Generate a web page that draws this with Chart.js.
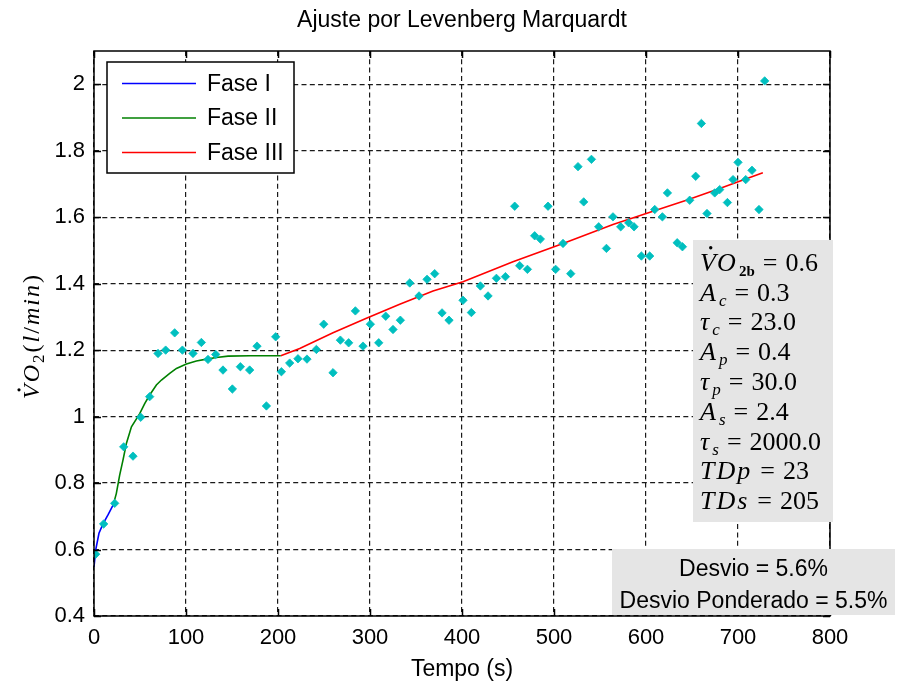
<!DOCTYPE html>
<html>
<head>
<meta charset="utf-8">
<script src="https://cdn.jsdelivr.net/npm/chart.js@4.4.1/dist/chart.umd.min.js"></script>
<style>
  html, body { margin: 0; padding: 0; background: #fff; }
  #c { display: block; }
</style>
</head>
<body>
<canvas id="c" width="897" height="687"></canvas>
<script>
// Measured oxygen uptake (time in s, VO2 in l/min)
const obsTime = [1.8,10.5,22.5,32.3,42.4,50.8,60.5,69.6,77.9,87.7,96.1,107.6,116.7,123.9,132.3,140.2,150.4,159.1,169.2,177.2,187.4,197.5,203.7,212.7,221.7,231.5,241.7,249.7,259.8,267.8,276.8,284.1,292.4,300.4,309.5,317.1,325,333,343.2,353.3,362,370.3,378.3,385.9,401.1,410.2,420,428.3,437.4,447.2,457.3,462.7,471.1,479,485.2,493.5,501.8,509.8,518.2,526.1,532.3,540.7,548.6,557,564.1,572.5,581.2,587,595,604,609.5,617.8,623.3,633.9,639.6,647.5,654,660.2,666.3,674.7,680.1,688.5,694.6,700,708.4,715.2,722.8,729];
const obsVO2 = [0.586,0.677,0.739,0.909,0.881,0.998,1.06,1.19,1.2,1.252,1.2,1.19,1.223,1.172,1.187,1.14,1.083,1.15,1.14,1.212,1.032,1.24,1.135,1.161,1.174,1.173,1.202,1.278,1.132,1.23,1.222,1.318,1.212,1.278,1.222,1.302,1.262,1.29,1.402,1.363,1.413,1.43,1.312,1.29,1.35,1.313,1.393,1.363,1.416,1.421,1.633,1.454,1.443,1.544,1.534,1.633,1.443,1.521,1.43,1.752,1.646,1.774,1.571,1.506,1.601,1.571,1.583,1.571,1.483,1.483,1.623,1.601,1.673,1.523,1.511,1.651,1.723,1.882,1.611,1.673,1.683,1.644,1.713,1.765,1.713,1.741,1.623,2.01];

// Fitted model, one curve per phase
const phase1Time = [0, 1.8, 5.4, 9.8, 15.2, 21];
const phase1VO2  = [0.548, 0.598, 0.649, 0.677, 0.704, 0.735];
const phase2Time = [21, 24.3, 27.9, 31.5, 35.2, 40.7, 49.7, 55.1, 60.5, 67.8, 73.3, 82.3, 89.6, 100.4, 111.3, 122.2, 133, 145.7, 170, 203];
const phase2VO2  = [0.735, 0.769, 0.824, 0.869, 0.919, 0.969, 1.009, 1.039, 1.065, 1.095, 1.11, 1.13, 1.145, 1.158, 1.167, 1.173, 1.178, 1.182, 1.183, 1.183];
const phase3Time = [203, 223.6, 259.8, 296.1, 332.3, 368.5, 401.1, 455.4, 509.8, 564.1, 607.6, 643.9, 680.1, 727];
const phase3VO2  = [1.183, 1.205, 1.252, 1.296, 1.338, 1.378, 1.406, 1.466, 1.521, 1.578, 1.618, 1.651, 1.686, 1.734];

const phaseLabels = ['Fase I', 'Fase II', 'Fase III'];

// Axis ticks
const xTicks = [0, 100, 200, 300, 400, 500, 600, 700, 800];
const yTicks = [0.4, 0.6, 0.8, 1.0, 1.2, 1.4, 1.6, 1.8, 2.0];

// Fitted parameters
const paramBase   = ['VO', 'A', 'τ', 'A', 'τ', 'A', 'τ', 'TDp', 'TDs'];
const paramSub    = ['2b', 'c', 'c', 'p', 'p', 's', 's', '', ''];
const paramValues = ['0.6', '0.3', '23.0', '0.4', '30.0', '2.4', '2000.0', '23', '205'];

// Fit error summary
const deviationLines = ['Desvio = 5.6%', 'Desvio Ponderado = 5.5%'];

const chartTitle = 'Ajuste por Levenberg Marquardt';
const xTitle = 'Tempo (s)';

const SANS = '"Liberation Sans", Arial, sans-serif';
const SERIF = '"Liberation Serif", "Times New Roman", serif';

const toXY = (xs, ys) => xs.map((x, i) => ({ x, y: ys[i] }));

const lineStyle = (label, color, xs, ys) => ({
  label, data: toXY(xs, ys), showLine: true, borderColor: color, backgroundColor: color,
  borderWidth: 1.6, pointRadius: 0, tension: 0
});

// Frame, inward ticks, legend, text boxes and titles
const decorations = {
  id: 'decorations',
  afterDatasetsDraw(chart) {
    const { ctx, chartArea: a, scales: { x, y } } = chart;
    ctx.save();
    ctx.setLineDash([]);
    ctx.strokeStyle = '#000';
    ctx.lineWidth = 1.5;
    ctx.beginPath();
    xTicks.forEach(v => {
      const px = Math.round(x.getPixelForValue(v)) + 0.5;
      ctx.moveTo(px, a.bottom); ctx.lineTo(px, a.bottom - 7);
      ctx.moveTo(px, a.top); ctx.lineTo(px, a.top + 7);
    });
    yTicks.forEach(v => {
      const py = Math.round(y.getPixelForValue(v)) + 0.5;
      ctx.moveTo(a.left, py); ctx.lineTo(a.left + 7, py);
      ctx.moveTo(a.right, py); ctx.lineTo(a.right - 7, py);
    });
    ctx.stroke();
    ctx.strokeRect(a.left, a.top, a.right - a.left, a.bottom - a.top);

    // legend
    const lx = a.left + 13, ly = a.top + 11, lw = 187, lh = 111;
    ctx.fillStyle = '#fff';
    ctx.fillRect(lx, ly, lw, lh);
    ctx.lineWidth = 1.5;
    ctx.strokeStyle = '#000';
    ctx.strokeRect(lx, ly, lw, lh);
    const lineSets = chart.data.datasets.filter(d => d.showLine);
    lineSets.forEach((d, i) => {
      const ry = ly + 21.5 + i * 34.5;
      ctx.strokeStyle = d.borderColor;
      ctx.lineWidth = 1.6;
      ctx.beginPath(); ctx.moveTo(lx + 15, ry); ctx.lineTo(lx + 89, ry); ctx.stroke();
      ctx.fillStyle = '#000';
      ctx.font = '23px ' + SANS;
      ctx.textBaseline = 'middle';
      ctx.textAlign = 'left';
      ctx.fillText(d.label, lx + 100, ry + 1);
    });
    ctx.restore();
  },
  afterDraw(chart) {
    const { ctx, chartArea: a } = chart;
    ctx.save();
    // chart title
    ctx.fillStyle = '#000';
    ctx.font = '23px ' + SANS;
    ctx.textAlign = 'center';
    ctx.textBaseline = 'middle';
    ctx.fillText(chartTitle, (a.left + a.right) / 2, 21);

    // y-axis title, rotated
    ctx.save();
    ctx.translate(31, 337);
    ctx.rotate(-Math.PI / 2);
    const it = 'italic 24px ' + SERIF, up = '24px ' + SERIF;
    const segs = [
      { t: 'V', f: it }, { t: 'O', f: it }, { t: '2', f: '17px ' + SERIF, dy: 5 },
      { t: '(', f: up }, { t: 'l', f: it }, { t: '/', f: up }, { t: 'm', f: it },
      { t: 'i', f: it }, { t: 'n', f: it }, { t: ')', f: up }
    ];
    const gap = 2;
    let total = 0;
    segs.forEach(s => { ctx.font = s.f; s.w = ctx.measureText(s.t).width; total += s.w + gap; });
    total -= gap;
    let cx = -total / 2;
    ctx.textAlign = 'left';
    ctx.textBaseline = 'alphabetic';
    segs.forEach((s, i) => {
      ctx.font = s.f;
      ctx.fillText(s.t, cx, 8 + (s.dy || 0));
      if (i === 0) {
        ctx.beginPath(); ctx.arc(cx + s.w * 0.62, -12, 1.6, 0, Math.PI * 2); ctx.fill();
      }
      cx += s.w + gap;
    });
    ctx.restore();

    // parameter box
    const bx = 693, by = 240, bw = 140, bh = 282;
    ctx.fillStyle = '#e5e5e5';
    ctx.fillRect(bx, by, bw, bh);
    ctx.fillStyle = '#000';
    ctx.textAlign = 'left';
    ctx.textBaseline = 'alphabetic';
    paramBase.forEach((base, i) => {
      const base_y = by + 21.7 + i * 29.8 + 9;
      let px = bx + 7;
      ctx.font = 'italic 26px ' + SERIF;
      ctx.letterSpacing = '2px';
      const bw0 = ctx.measureText(base).width;
      ctx.fillText(base, px, base_y);
      if (base === 'VO') {
        const vw = ctx.measureText('V').width;
        ctx.beginPath(); ctx.arc(px + vw * 0.6, base_y - 23, 1.7, 0, Math.PI * 2); ctx.fill();
      }
      px += bw0;
      ctx.letterSpacing = '0px';
      const sub = paramSub[i];
      if (sub) {
        ctx.font = sub === '2b' ? 'bold 15px ' + SERIF : 'italic 17px ' + SERIF;
        ctx.fillText(sub, px + 1, base_y + 5);
        px += ctx.measureText(sub).width + 1;
      }
      ctx.font = '26px ' + SERIF;
      px += 8;
      ctx.fillText('=', px, base_y);
      px += ctx.measureText('=').width + 8;
      ctx.fillText(paramValues[i], px, base_y);
    });

    // deviation box
    const dx = 612, dy = 549, dw = 283, dh = 66;
    ctx.fillStyle = '#e5e5e5';
    ctx.fillRect(dx, dy, dw, dh);
    ctx.fillStyle = '#000';
    ctx.font = '23px ' + SANS;
    ctx.textAlign = 'center';
    ctx.textBaseline = 'middle';
    deviationLines.forEach((t, i) => ctx.fillText(t, dx + dw / 2, dy + 21 + i * 32));
    ctx.restore();
  }
};

new Chart(document.getElementById('c'), {
  type: 'scatter',
  data: {
    datasets: [
      {
        label: 'VO2', data: toXY(obsTime, obsVO2), showLine: false,
        pointStyle: 'rectRot', pointRadius: 4.2, borderWidth: 0.8,
        backgroundColor: '#00bfbf', borderColor: '#00bfbf'
      },
      lineStyle(phaseLabels[0], '#0000ff', phase1Time, phase1VO2),
      lineStyle(phaseLabels[1], '#008000', phase2Time, phase2VO2),
      lineStyle(phaseLabels[2], '#ff0000', phase3Time, phase3VO2)
    ]
  },
  options: {
    responsive: false,
    animation: false,
    devicePixelRatio: 1,
    layout: { padding: { top: 51, right: 67, left: 0, bottom: 0 } },
    plugins: { legend: { display: false }, tooltip: { enabled: false }, title: { display: false } },
    scales: {
      x: {
        type: 'linear', min: 0, max: 800,
        afterBuildTicks: s => { s.ticks = xTicks.map(v => ({ value: v })); },
        afterFit: s => { s.height = 71; },
        grid: { color: '#1a1a1a', lineWidth: 1.2, drawTicks: false },
        border: { display: false, dash: [5, 3.3] },
        ticks: { color: '#000', font: { family: SANS, size: 22 }, padding: 9, maxRotation: 0, callback: v => String(v) },
        title: { display: true, text: xTitle, color: '#000', font: { family: SANS, size: 23 }, padding: { top: 0, bottom: 4 } }
      },
      y: {
        type: 'linear', min: 0.4, max: 2.1,
        afterBuildTicks: s => { s.ticks = yTicks.map(v => ({ value: v })); },
        afterFit: s => { s.width = 94; },
        grid: { color: '#1a1a1a', lineWidth: 1.2, drawTicks: false },
        border: { display: false, dash: [5, 3.3] },
        ticks: { color: '#000', font: { family: SANS, size: 22 }, padding: 9, callback: v => String(+Number(v).toFixed(1)) }
      }
    }
  },
  plugins: [decorations]
});
</script>
</body>
</html>
